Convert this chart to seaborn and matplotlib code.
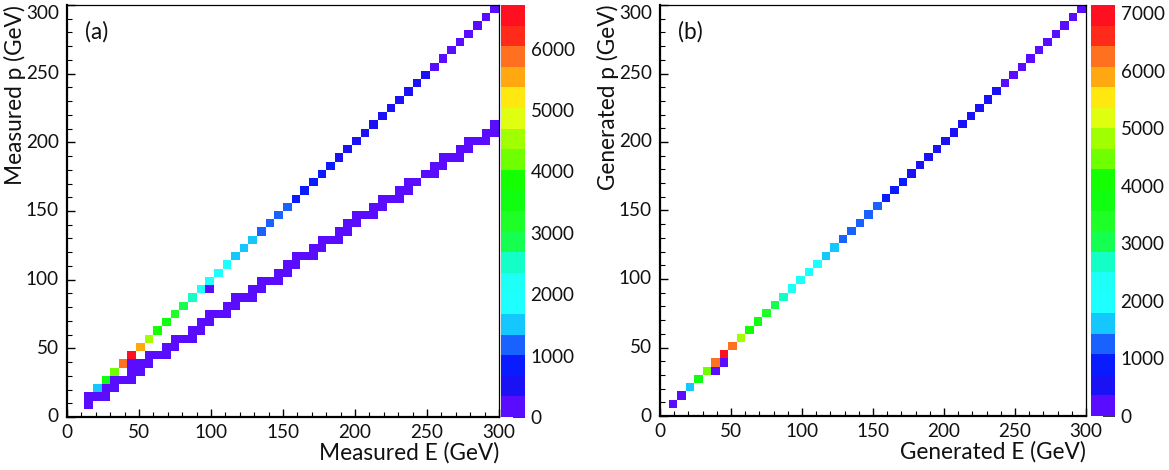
import numpy as np
import pandas as pd
import matplotlib
matplotlib.use("Agg")
import matplotlib.pyplot as plt
from matplotlib.colors import ListedColormap
import seaborn as sns

# Binning: 50 bins of 6 GeV over 0-300 GeV on both axes
NBINS = 50
E_MAX = 300.0
BIN = E_MAX / NBINS

# 20-step rainbow palette, violet (low) to red (high)
palette = ["#5a0cff", "#1a12f5", "#0a1cff", "#1a62ff", "#14c8ff",
           "#1effff", "#1efff8", "#14ffc8", "#14ff50", "#1eff28",
           "#10ff10", "#14ff00", "#70ff00", "#a0ff00", "#e0ff10",
           "#ffe810", "#ffa810", "#ff7020", "#ff2a1a", "#ff1020"]

# ---- (a) measured p vs measured E ----
# p = E line: E bin index (p bin index identical) and counts
a_diag_bin = list(range(3, 50))
a_diag_counts = [1600, 3500, 4200, 5900, 6710, 5500, 4550, 3850, 3500, 3200,
                 2850, 2550, 2250, 2000, 1900, 1780, 1620, 1520, 1420, 1320,
                 1230, 1150, 1070, 990, 920, 850, 780, 700, 650, 620,
                 590, 560, 530, 500, 470, 440, 410, 380, 350, 320,
                 300, 280, 260, 240, 220, 200, 190]
# lower band (p below E): cells given as E bin, p bin, counts
a_low_ebin = [2, 2, 3, 4, 4, 5, 5, 6, 7, 7, 7, 8, 8, 9, 9, 10, 11, 11, 12, 12,
              13, 14, 14, 15, 15, 16, 16, 17, 18, 18, 19, 19, 20, 21, 21, 22, 22,
              23, 24, 24, 25, 25, 26, 26, 27, 28, 28, 29, 29, 30, 31, 31, 32, 32,
              33, 33, 34, 35, 35, 36, 36, 37, 38, 38, 39, 39, 40, 41, 42, 42,
              43, 43, 44, 45, 45, 46, 46, 47, 48, 48, 49, 49, 16]
a_low_pbin = [1, 2, 2, 2, 3, 3, 4, 4, 4, 5, 6, 5, 6, 6, 7, 7, 7, 8, 8, 9,
              9, 9, 10, 10, 11, 11, 12, 12, 12, 13, 13, 14, 14, 14, 15, 15, 16,
              16, 16, 17, 17, 18, 18, 19, 19, 19, 20, 20, 21, 21, 21, 22, 22, 23,
              23, 24, 24, 24, 25, 25, 26, 26, 26, 27, 27, 28, 28, 29, 29, 30,
              30, 31, 31, 31, 32, 32, 33, 33, 33, 34, 34, 35, 15]
a_low_counts = [150, 210, 300, 180, 160, 220, 140, 290, 120, 170, 110, 200, 190, 230, 130, 300, 150, 210, 220, 140,
                290, 130, 240, 200, 160, 230, 150, 300, 140, 220, 170, 190, 290, 130, 230, 210, 160,
                280, 150, 220, 200, 180, 190, 170, 290, 140, 230, 210, 170, 280, 150, 220, 200, 180,
                170, 200, 270, 150, 220, 200, 180, 280, 140, 230, 190, 190, 260, 250, 150, 210,
                190, 180, 260, 140, 210, 200, 170, 250, 140, 200, 170, 160, 180]
a_zmax = 6710
a_zticks = [0, 1000, 2000, 3000, 4000, 5000, 6000]

# ---- (b) generated p vs generated E ----
b_diag_bin = list(range(1, 50))
b_diag_counts = [150, 300, 1650, 3700, 4450, 6200, 7140, 6250, 4800, 4050,
                 3750, 3350, 3000, 2650, 2400, 2200, 2050, 1850, 1700, 1500,
                 1400, 1320, 1250, 1180, 1100, 1020, 900, 780, 700, 660,
                 630, 600, 570, 540, 510, 480, 450, 420, 380, 340,
                 320, 300, 280, 260, 240, 220, 200, 190, 180]
b_low_ebin = [6, 7]
b_low_pbin = [5, 6]
b_low_counts = [250, 200]
b_zmax = 7140
b_zticks = [0, 1000, 2000, 3000, 4000, 5000, 6000, 7000]

axis_ticks = [0, 50, 100, 150, 200, 250, 300]


def fill(diag_bin, diag_counts, low_e, low_p, low_counts):
    h = np.zeros((NBINS, NBINS))
    for i, c in zip(diag_bin, diag_counts):
        h[i, i] = c
    for e, p, c in zip(low_e, low_p, low_counts):
        h[p, e] = c
    centres = (np.arange(NBINS) + 0.5) * BIN
    return pd.DataFrame(h, index=centres, columns=centres)


sns.set_theme(style="white")
plt.rcParams["font.family"] = ["Lato", "DejaVu Sans"]

fig = plt.figure(figsize=(11.69, 4.70), dpi=100)
cmap = ListedColormap(palette)

W, H = 1169.0, 470.0


def box(x0, x1, ytop, ybot):
    return [x0 / W, 1 - ybot / H, (x1 - x0) / W, (ybot - ytop) / H]


panels = [
    dict(data=fill(a_diag_bin, a_diag_counts, a_low_ebin, a_low_pbin, a_low_counts),
         zmax=a_zmax, zticks=a_zticks, ax=box(67, 499, 5, 417), cax=box(501, 525, 5, 417),
         xlabel="Measured E (GeV)", ylabel="Measured p (GeV)", tag="(a)", ylab_x=-0.094),
    dict(data=fill(b_diag_bin, b_diag_counts, b_low_ebin, b_low_pbin, b_low_counts),
         zmax=b_zmax, zticks=b_zticks, ax=box(660, 1086, 5, 416), cax=box(1091, 1115, 5, 416),
         xlabel="Generated E (GeV)", ylabel="Generated p (GeV)", tag="(b)", ylab_x=-0.096),
]

LABEL_FS = 16.3
TICK_FS = 13.6

for pnl in panels:
    ax = fig.add_axes(pnl["ax"])
    cax = fig.add_axes(pnl["cax"])
    df = pnl["data"]
    sns.heatmap(df, ax=ax, cbar_ax=cax, cmap=cmap, vmin=0, vmax=pnl["zmax"],
                mask=(df.values == 0), linewidths=0,
                cbar_kws={"ticks": pnl["zticks"]})
    ax.invert_yaxis()
    ax.set_xlim(0, NBINS)
    ax.set_ylim(0, NBINS)

    major = np.array(axis_ticks) / BIN
    minor = np.arange(0, 301, 10) / BIN
    ax.set_xticks(major)
    ax.set_xticklabels([str(t) for t in axis_ticks], rotation=0)
    ax.set_yticks(major)
    ax.set_yticklabels([str(t) for t in axis_ticks], rotation=0)
    ax.set_xticks(minor, minor=True)
    ax.set_yticks(minor, minor=True)
    ax.tick_params(axis="both", which="major", direction="in", length=6, width=1,
                   color="black", labelsize=TICK_FS, labelcolor="#111111",
                   bottom=True, left=True, top=False, right=False)
    ax.tick_params(axis="x", which="major", pad=5)
    ax.tick_params(axis="y", which="major", pad=6)
    ax.tick_params(axis="both", which="minor", direction="in", length=3.5, width=0.8,
                   color="black", bottom=True, left=True, top=False, right=False)
    # keep the top y label inside the canvas
    ax.get_yticklabels()[-1].set_va("top")

    for side in ["left", "bottom", "top", "right"]:
        ax.spines[side].set_visible(True)
        ax.spines[side].set_color("black")
    ax.spines["left"].set_linewidth(1.6)
    ax.spines["bottom"].set_linewidth(1.6)
    ax.spines["top"].set_linewidth(0.9)
    ax.spines["right"].set_linewidth(0.9)

    ax.set_xlabel(pnl["xlabel"], fontsize=LABEL_FS, color="#111111", loc="right")
    ax.set_ylabel(pnl["ylabel"], fontsize=LABEL_FS, color="#111111", loc="top")
    ax.xaxis.set_label_coords(1.0, -0.062)
    ax.yaxis.set_label_coords(pnl["ylab_x"], 1.0)
    ax.text(0.042, 0.962, pnl["tag"], transform=ax.transAxes, fontsize=LABEL_FS,
            color="#111111", ha="left", va="top")

    cbar = ax.collections[0].colorbar
    cbar.outline.set_visible(False)
    cax.tick_params(direction="in", length=9, width=1.1, color="black",
                    labelsize=TICK_FS, labelcolor="#111111", pad=4, right=True)

fig.savefig("out.png", dpi=100)
